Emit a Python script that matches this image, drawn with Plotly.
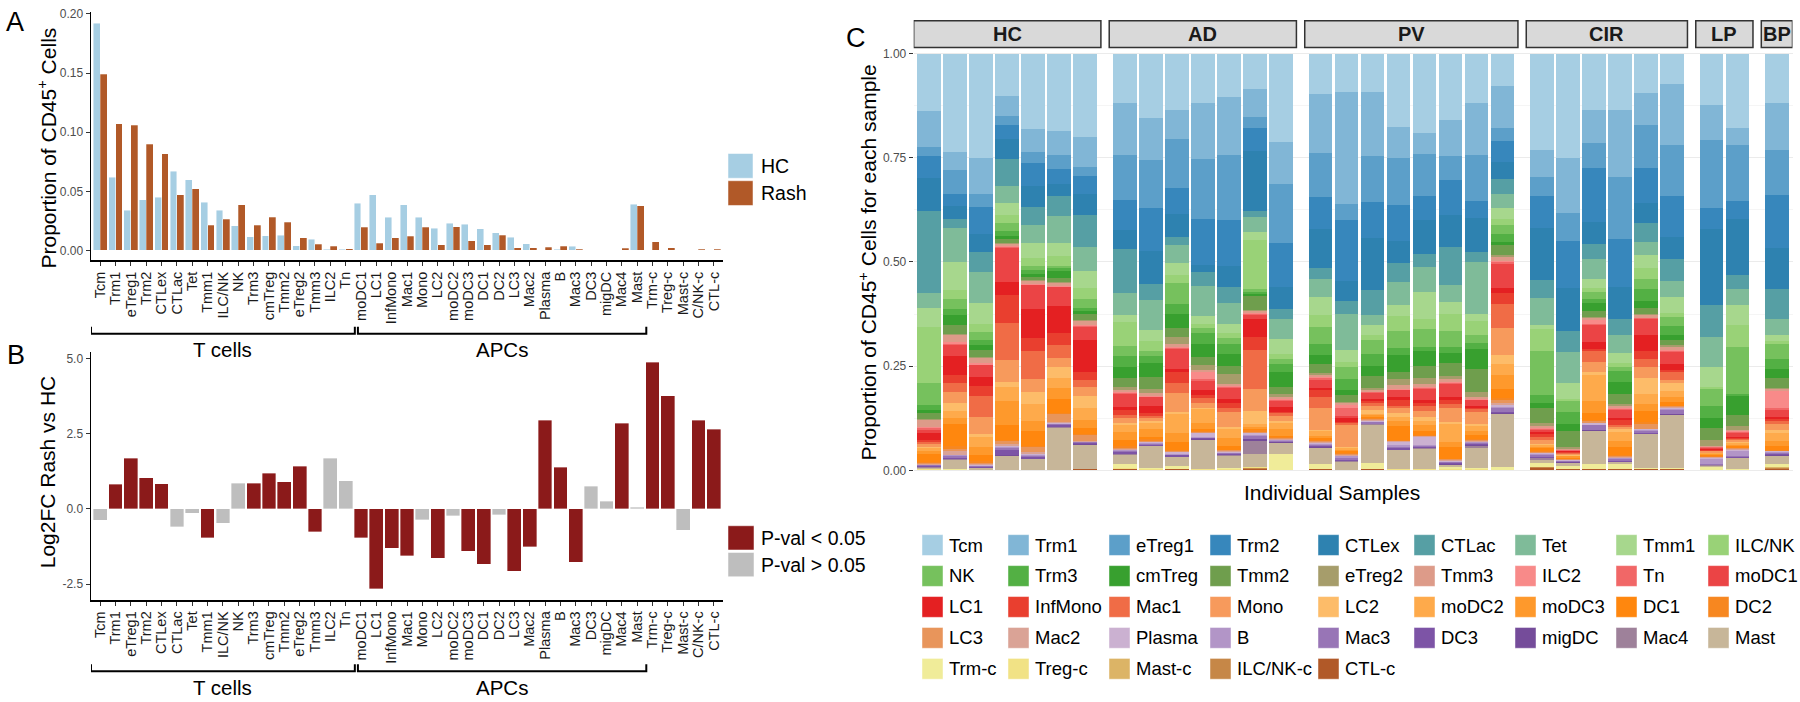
import plotly.graph_objects as go

# ---------------- data ----------------
cell_types = ["Tcm", "Trm1", "eTreg1", "Trm2", "CTLex", "CTLac", "Tet", "Tmm1", "ILC/NK", "NK",
              "Trm3", "cmTreg", "Tmm2", "eTreg2", "Tmm3", "ILC2", "Tn", "moDC1", "LC1", "InfMono",
              "Mac1", "Mono", "LC2", "moDC2", "moDC3", "DC1", "DC2", "LC3", "Mac2", "Plasma",
              "B", "Mac3", "DC3", "migDC", "Mac4", "Mast", "Trm-c", "Treg-c", "Mast-c", "ILC/NK-c", "CTL-c"]
axis_labels = ["Tcm", "Trm1", "eTreg1", "Trm2", "CTLex", "CTLac", "Tet", "Tmm1", "ILC/NK", "NK",
               "Trm3", "cmTreg", "Tmm2", "eTreg2", "Tmm3", "ILC2", "Tn", "moDC1", "LC1", "InfMono",
               "Mac1", "Mono", "LC2", "moDC2", "moDC3", "DC1", "DC2", "LC3", "Mac2", "Plasma",
               "B", "Mac3", "DC3", "migDC", "Mac4", "Mast", "Trm-c", "Treg-c", "Mast-c", "C/NK-c", "CTL-c"]

hc_prop = [0.192, 0.062, 0.034, 0.043, 0.045, 0.067, 0.060, 0.041, 0.034, 0.021,
           0.0115, 0.0126, 0.0131, 0.0039, 0.0095, 0.0011, 0.0011, 0.040, 0.047, 0.028,
           0.0388, 0.028, 0.019, 0.0232, 0.0223, 0.0182, 0.0148, 0.0112, 0.0059, 0.0006,
           0.0011, 0.0036, 0.0003, 0.0002, 0.0002, 0.0391, 0.0003, 0.0003, 0.0003, 0.0002, 0.0002]
rash_prop = [0.149, 0.107, 0.106, 0.090, 0.0816, 0.047, 0.052, 0.0215, 0.0265, 0.0385,
             0.0212, 0.0279, 0.0237, 0.0106, 0.0053, 0.0034, 0.0014, 0.0198, 0.0061, 0.0106,
             0.012, 0.0196, 0.005, 0.0201, 0.0081, 0.0047, 0.0128, 0.0022, 0.0022, 0.0028,
             0.0034, 0.0011, 0.0006, 0.0006, 0.0017, 0.038, 0.0073, 0.0025, 0.0008, 0.0011, 0.0011]

log2fc = [-0.38, 0.82, 1.68, 1.04, 0.83, -0.60, -0.14, -0.96, -0.47, 0.85,
          0.85, 1.19, 0.90, 1.41, -0.76, 1.69, 0.94, -0.96, -2.65, -1.30,
          -1.55, -0.36, -1.64, -0.22, -1.41, -1.83, -0.20, -2.07, -1.26, 2.94,
          1.39, -1.78, 0.75, 0.26, 2.85, 0.05, 4.87, 3.76, -0.71, 2.94, 2.64]
significant = [0, 1, 1, 1, 1, 0, 0, 1, 0, 0,
               1, 1, 1, 1, 1, 0, 0, 1, 1, 1,
               1, 0, 1, 0, 1, 1, 0, 1, 1, 1,
               1, 1, 0, 0, 1, 0, 1, 1, 0, 1, 1]

groups = ["HC", "AD", "PV", "CIR", "LP", "BP"]
group_sizes = [7, 7, 8, 6, 2, 1]

# per-sample proportions, in cell_types order
HC1 = [.140, .087, .024, .052, .081, .200, .036, .047, .137, .053,
       .012, .008, .014, .003, .017, .003, .004, .008, .016, .005,
       .005, .006, .004, .006, .008, .020, .003, .002, .001, .001,
       .001, .002, .002, .001, .001, .003, .001, .001, 0, 0, .001]
HC2 = [.239, .044, .058, .029, .032, .022, .082, .066, .024, .024,
       .014, .024, .021, .004, .016, .004, .004, .026, .045, .020,
       .022, .026, .020, .018, .013, .055, .006, .006, .008, .002,
       .002, .003, .003, .001, .001, .024, .001, .001, 0, 0, 0]
HC3 = [.251, .086, .033, .063, .044, .048, .075, .050, .020, .019,
       .012, .012, .016, .003, .013, .003, .002, .028, .021, .024,
       .051, .041, .008, .022, .019, .016, .004, .003, .003, .001,
       .001, .002, .002, .001, 0, .004, .001, 0, 0, 0, 0]
HC4 = [.103, .048, .021, .034, .049, .065, .041, .029, .020, .019,
       .011, .007, .010, .002, .006, .002, .002, .083, .032, .066,
       .089, .055, .012, .032, .059, .036, .003, .007, .004, .003,
       .003, .005, .011, .002, .001, .033, .001, 0, 0, 0, 0]
HC5 = [.182, .053, .028, .054, .051, .044, .043, .034, .020, .010,
       .010, .007, .008, .002, .006, .002, .002, .057, .069, .032,
       .067, .030, .029, .040, .024, .036, .004, .012, .004, .002,
       .002, .003, .004, .001, .001, .025, .001, 0, 0, 0, 0]
HC6 = [.186, .057, .034, .036, .029, .048, .065, .032, .022, .006,
       .006, .018, .009, .002, .007, .002, .002, .044, .066, .029,
       .030, .021, .027, .025, .026, .033, .004, .019, .002, .001,
       .001, .002, .005, .001, .001, .101, .001, 0, 0, 0, 0]
HC7 = [.202, .071, .023, .042, .050, .077, .058, .041, .028, .020,
       .008, .008, .015, .002, .010, .002, .002, .032, .075, .020,
       .017, .021, .029, .030, .018, .016, .003, .013, .002, .001,
       .001, .001, .003, .001, .001, .058, .001, 0, 0, 0, .002]
AD1 = [.120, .125, .109, .074, .045, .107, .052, .018, .057, .024,
       .027, .026, .022, .008, .005, .002, .002, .032, .008, .011,
       .008, .011, .006, .016, .020, .015, .003, .003, .002, .002,
       .002, .002, .004, .001, .001, .022, .010, .002, .001, .001, .002]
AD2 = [.156, .102, .118, .105, .079, .040, .071, .028, .024, .012,
       .018, .033, .030, .010, .006, .002, .002, .021, .017, .007,
       .006, .006, .006, .014, .020, .005, .003, .002, .002, .002,
       .002, .002, .002, .001, .001, .053, .003, .001, 0, 0, .001]
AD3 = [.136, .070, .117, .063, .055, .020, .044, .027, .020, .050,
       .026, .033, .020, .018, .008, .002, .002, .049, .006, .028,
       .022, .047, .004, .046, .022, .019, .002, .002, .002, .003,
       .002, .002, .003, .001, .001, .020, .008, .001, 0, 0, .002]
AD4 = [.118, .136, .144, .111, .017, .034, .072, .019, .010, .013,
       .025, .032, .019, .012, .004, .018, .004, .022, .012, .008,
       .012, .011, .004, .032, .016, .004, .002, .002, .002, .008,
       .002, .002, .002, .001, .001, .069, .002, .001, 0, 0, .001]
AD5 = [.105, .139, .158, .111, .051, .038, .051, .022, .012, .016,
       .024, .028, .020, .024, .004, .002, .002, .028, .009, .013,
       .009, .036, .004, .024, .019, .008, .002, .002, .001, .002,
       .002, .002, .002, .001, .001, .029, .004, .001, 0, 0, .001]
AD6 = [.087, .069, .028, .055, .149, .014, .038, .020, .120, .008,
       .004, .004, .036, .003, .003, .002, .004, .010, .045, .030,
       .097, .055, .030, .008, .005, .004, .003, .002, .002, .003,
       .004, .006, .002, .003, .032, .033, .001, .001, .001, .002, .003]
AD7 = [.216, .101, .144, .107, .053, .026, .048, .036, .012, .012,
       .020, .037, .016, .009, .004, .002, .002, .017, .010, .004,
       .006, .013, .006, .014, .016, .004, .002, .002, .002, .001,
       .001, .002, .002, .001, .001, .027, .038, .001, 0, 0, 0]
PV1 = [.098, .145, .107, .078, .095, .025, .046, .043, .030, .040,
       .027, .022, .023, .003, .006, .003, .003, .020, .006, .017,
       .027, .052, .004, .012, .005, .005, .002, .002, .002, .002,
       .003, .004, .002, .001, .001, .038, .012, .001, 0, 0, .003]
PV2 = [.093, .275, .038, .150, .048, .033, .086, .030, .013, .028,
       .028, .012, .017, .003, .004, .008, .020, .004, .009, .004,
       .004, .053, .004, .004, .004, .004, .002, .002, .002, .002,
       .004, .005, .002, .001, .001, .020, .001, 0, 0, 0, 0]
PV3 = [.093, .156, .113, .087, .129, .059, .026, .025, .012, .034,
       .029, .024, .030, .004, .004, .002, .002, .014, .004, .006,
       .008, .010, .008, .004, .004, .003, .002, .002, .002, .002,
       .002, .003, .001, .001, .001, .094, .013, .001, 0, 0, .003]
PV4 = [.178, .074, .113, .087, .055, .045, .055, .028, .036, .040,
       .018, .041, .016, .016, .008, .002, .002, .016, .008, .013,
       .006, .012, .010, .010, .012, .032, .002, .002, .002, .008,
       .004, .002, .004, .001, .001, .044, .002, .001, 0, 0, .001]
PV5 = [.192, .051, .103, .058, .083, .030, .061, .065, .024, .044,
       .010, .037, .028, .014, .008, .002, .002, .028, .006, .008,
       .013, .013, .010, .011, .014, .009, .002, .002, .002, .018,
       .002, .004, .002, .001, .001, .048, .002, .001, 0, 0, .001]
PV6 = [.160, .086, .057, .085, .077, .090, .041, .030, .040, .039,
       .014, .023, .032, .006, .008, .002, .002, .032, .008, .008,
       .011, .032, .006, .044, .012, .027, .002, .002, .001, .002,
       .002, .002, .003, .001, .001, .003, .006, .002, 0, 0, .001]
PV7 = [.120, .126, .112, .041, .084, .024, .127, .017, .034, .020,
       .015, .048, .056, .012, .004, .002, .002, .014, .004, .004,
       .006, .030, .005, .012, .009, .010, .002, .002, .002, .002,
       .002, .003, .002, .002, .004, .049, .004, .001, 0, 0, .001]
PV8 = [.079, .101, .030, .053, .041, .034, .034, .027, .015, .022,
       .020, .006, .025, .003, .010, .004, .004, .059, .012, .025,
       .058, .066, .021, .028, .033, .022, .004, .008, .004, .004,
       .003, .010, .002, .002, .001, .128, .008, 0, 0, 0, 0]
CIR1 = [.235, .066, .045, .077, .127, .044, .064, .011, .054, .105,
        .021, .011, .038, .006, .006, .002, .002, .005, .006, .005,
        .009, .008, .004, .004, .004, .006, .002, .002, .002, .002,
        .003, .003, .002, .001, .004, .008, .009, .001, .001, .002, .005]
CIR2 = [.254, .134, .069, .115, .103, .052, .075, .040, .004, .027,
        .030, .016, .040, .003, .003, .001, .001, .002, .002, .002,
        .002, .002, .002, .002, .003, .003, .001, .001, .002, .001,
        .001, .001, .001, .001, .001, .008, .008, 0, 0, 0, .002]
CIR3 = [.135, .081, .059, .131, .054, .034, .048, .024, .008, .018,
        .010, .018, .014, .003, .004, .011, .003, .040, .016, .006,
        .026, .024, .008, .063, .028, .017, .003, .003, .002, .003,
        .002, .010, .002, .001, .001, .078, .012, .001, 0, 0, .003]
CIR4 = [.138, .161, .153, .116, .077, .038, .046, .024, .008, .011,
        .026, .029, .024, .006, .005, .002, .002, .019, .006, .012,
        .004, .006, .008, .020, .016, .020, .002, .002, .001, .002,
        .002, .004, .002, .001, .001, .004, .013, 0, 0, 0, .002]
CIR5 = [.095, .077, .103, .083, .049, .045, .031, .032, .025, .024,
        .030, .016, .014, .003, .006, .002, .002, .038, .039, .019,
        .018, .027, .039, .024, .016, .027, .003, .012, .002, .002,
        .002, .004, .002, .001, .001, .081, .003, 0, 0, 0, .002]
CIR6 = [.075, .147, .124, .098, .053, .055, .038, .039, .010, .022,
        .022, .012, .012, .003, .009, .002, .002, .029, .014, .005,
        .019, .008, .021, .013, .013, .008, .002, .002, .002, .003,
        .003, .008, .001, .001, .002, .127, .004, 0, 0, 0, .002]
LP1 = [.124, .087, .163, .052, .184, .079, .073, .048, .004, .043,
       .028, .024, .029, .014, .003, .001, .001, .003, .002, .002,
       .002, .003, .002, .002, .003, .002, .001, .001, .001, .003,
       .012, .002, .001, .001, .001, .002, .008, 0, 0, 0, .001]
LP2 = [.182, .040, .135, .045, .135, .035, .038, .050, .053, .113,
       .006, .045, .028, .008, .004, .002, .003, .008, .003, .003,
       .003, .004, .003, .004, .004, .004, .001, .001, .002, .004,
       .012, .002, .001, .001, .001, .026, .002, 0, 0, 0, .001]
BP1 = [.120, .115, .109, .129, .101, .073, .040, .013, .008, .037,
       .024, .021, .026, .003, .003, .042, .006, .016, .006, .004,
       .006, .016, .006, .021, .012, .010, .001, .001, .001, .002,
       .003, .002, .002, .001, .001, .020, .006, .002, .002, .002, .003]

samples = [HC1, HC2, HC3, HC4, HC5, HC6, HC7,
           AD1, AD2, AD3, AD4, AD5, AD6, AD7,
           PV1, PV2, PV3, PV4, PV5, PV6, PV7, PV8,
           CIR1, CIR2, CIR3, CIR4, CIR5, CIR6,
           LP1, LP2, BP1]

# ---------------- styles ----------------
FONT = "Liberation Sans, Arial, Helvetica, sans-serif"
W, H = 1800, 702
HC_COLOR, RASH_COLOR = "#a6cee3", "#b15928"
SIG_COLOR, NS_COLOR = "#8b1a1a", "#bebebe"
PAIRED = ["#A6CEE3", "#1F78B4", "#B2DF8A", "#33A02C", "#FB9A99", "#E31A1C",
          "#FDBF6F", "#FF7F00", "#CAB2D6", "#6A3D9A", "#FFFF99", "#B15928"]


def ramp(colors, n):
    rgb = [tuple(int(c[i:i + 2], 16) for i in (1, 3, 5)) for c in colors]
    out = []
    for k in range(n):
        t = k * (len(rgb) - 1) / (n - 1)
        i = min(int(t), len(rgb) - 2)
        f = t - i
        c = [round(rgb[i][j] + (rgb[i + 1][j] - rgb[i][j]) * f) for j in range(3)]
        out.append("#%02x%02x%02x" % tuple(c))
    return out


palette = ramp(PAIRED, len(cell_types))


def fx(p):
    return p / W


def fy(p):
    return 1 - p / H


idx = list(range(len(cell_types)))
fig = go.Figure()

# ---------------- panel A ----------------
fig.add_trace(go.Bar(x=idx, y=hc_prop, name="HC", xaxis="x", yaxis="y",
                     offsetgroup="HC", offset=-0.45, width=0.45,
                     marker=dict(color=HC_COLOR, line=dict(color="rgba(255,255,255,0.55)", width=0.8))))
fig.add_trace(go.Bar(x=idx, y=rash_prop, name="Rash", xaxis="x", yaxis="y",
                     offsetgroup="Rash", offset=0.0, width=0.45,
                     marker=dict(color=RASH_COLOR, line=dict(color="rgba(255,255,255,0.35)", width=0.8))))

# ---------------- panel B ----------------
fig.add_trace(go.Bar(x=idx, y=log2fc, xaxis="x2", yaxis="y2", width=0.9,
                     marker=dict(color=[SIG_COLOR if s else NS_COLOR for s in significant],
                                 line=dict(color="rgba(255,255,255,0.45)", width=0.8))))

# ---------------- panel C ----------------
GROUP_GAP = 0.52
sample_x, group_span = [], []
pos = 0
for g, n in enumerate(group_sizes):
    xs = [pos + k + GROUP_GAP * g for k in range(n)]
    sample_x += xs
    group_span.append((xs[0], xs[-1]))
    pos += n

totals = [sum(s) for s in samples]
for k in reversed(range(len(cell_types))):
    fig.add_trace(go.Bar(x=sample_x, y=[s[k] / t for s, t in zip(samples, totals)],
                         name=cell_types[k], xaxis="x3", yaxis="y3", width=0.91,
                         marker=dict(color=palette[k], line=dict(width=0))))

shapes, annotations = [], []

# brackets under A and B
brackets = [("T cells", -0.6, 16.6), ("APCs", 16.8, 35.6)]
for xr, y_line, y_tip, y_text in [("x", 332, 325, 348), ("x2", 673, 666, 689)]:
    for label, a, b in brackets:
        shapes.append(dict(type="path", xref=xr, yref="paper",
                           path=f"M {a},{fy(y_tip)} L {a},{fy(y_line)} L {b},{fy(y_line)} L {b},{fy(y_tip)}",
                           line=dict(color="black", width=2)))
        annotations.append(dict(text=label, xref=xr, yref="paper", x=(a + b) / 2, y=fy(y_text),
                                showarrow=False, xanchor="center", yanchor="middle",
                                font=dict(size=20.5, color="black", family=FONT)))

# A / B legends
for i, (lab, col) in enumerate([("HC", HC_COLOR), ("Rash", RASH_COLOR)]):
    y0 = 150 + i * 27.5
    shapes.append(dict(type="rect", xref="paper", yref="paper", x0=fx(728), x1=fx(753),
                       y0=fy(y0), y1=fy(y0 + 25), fillcolor=col,
                       line=dict(color="rgba(255,255,255,0.5)", width=1)))
    annotations.append(dict(text=lab, xref="paper", yref="paper", x=fx(759), y=fy(y0 + 12.5),
                            showarrow=False, xanchor="left", yanchor="middle",
                            font=dict(size=19.5, color="black", family=FONT)))
for i, (lab, col) in enumerate([("P-val &lt; 0.05", SIG_COLOR), ("P-val &gt; 0.05", NS_COLOR)]):
    y0 = 526 + i * 27
    shapes.append(dict(type="rect", xref="paper", yref="paper", x0=fx(728), x1=fx(754),
                       y0=fy(y0), y1=fy(y0 + 24.5), fillcolor=col,
                       line=dict(color="rgba(255,255,255,0.5)", width=1)))
    annotations.append(dict(text=lab, xref="paper", yref="paper", x=fx(759), y=fy(y0 + 12.5),
                            showarrow=False, xanchor="left", yanchor="middle",
                            font=dict(size=19.5, color="black", family=FONT)))

# C legend
leg_cols = [922, 1008, 1109, 1210, 1318, 1414, 1515, 1616, 1708]
for k, name in enumerate(cell_types):
    r, c = divmod(k, 9)
    x0, y0 = leg_cols[c], 535 + r * 31.25
    shapes.append(dict(type="rect", xref="paper", yref="paper", x0=fx(x0), x1=fx(x0 + 21),
                       y0=fy(y0), y1=fy(y0 + 21), fillcolor=palette[k],
                       line=dict(color="rgba(255,255,255,0.45)", width=1)))
    annotations.append(dict(text=name, xref="paper", yref="paper", x=fx(x0 + 25), y=fy(y0 + 10.5),
                            showarrow=False, xanchor="left", yanchor="middle",
                            font=dict(size=18.5, color="black", family=FONT)))

# facet strips
for gname, (a, b) in zip(groups, group_span):
    shapes.append(dict(type="rect", xref="x3", yref="paper", x0=a - 0.6, x1=b + 0.6,
                       y0=fy(43), y1=fy(16), fillcolor="#d9d9d9",
                       line=dict(color="#333333", width=1.5)))
    annotations.append(dict(text=f"<b>{gname}</b>", xref="x3", yref="paper", x=(a + b) / 2,
                            y=fy(29.5), showarrow=False, xanchor="center", yanchor="middle",
                            font=dict(size=20, color="#1a1a1a", family=FONT)))

# panel letters and titles
for letter, x, y in [("A", 15, 17), ("B", 16, 354), ("C", 856, 33)]:
    annotations.append(dict(text=letter, xref="paper", yref="paper", x=fx(x), y=fy(y),
                            showarrow=False, xanchor="center", yanchor="middle",
                            font=dict(size=27, color="black", family=FONT)))
for text, x, y in [("Proportion of CD45<sup>+</sup> Cells", 47, 145),
                   ("Log2FC Rash vs HC", 47, 472),
                   ("Proportion of CD45<sup>+</sup> Cells for each sample", 868, 260)]:
    annotations.append(dict(text=text, xref="paper", yref="paper", x=fx(x), y=fy(y),
                            textangle=-90, showarrow=False, xanchor="center", yanchor="middle",
                            font=dict(size=21, color="black", family=FONT)))
annotations.append(dict(text="Individual Samples", xref="paper", yref="paper", x=fx(1332), y=fy(492),
                        showarrow=False, xanchor="center", yanchor="middle",
                        font=dict(size=21, color="black", family=FONT)))

# ---------------- axes ----------------
xcat = dict(range=[-0.6, 40.6], tickmode="array", tickvals=idx, ticktext=axis_labels,
            tickangle=-90, ticks="outside", ticklen=4, tickwidth=1, tickcolor="#333333",
            showline=True, linecolor="black", linewidth=1.5, showgrid=False, zeroline=False,
            tickfont=dict(size=14.5, color="#1a1a1a", family=FONT))
yax = dict(ticks="outside", ticklen=4, tickwidth=1, tickcolor="#333333", showline=True,
           linecolor="black", linewidth=1.5, showgrid=False, zeroline=False,
           tickfont=dict(size=12, color="#4d4d4d", family=FONT))

fig.update_layout(
    width=W, height=H, margin=dict(l=0, r=0, t=0, b=0),
    paper_bgcolor="white", plot_bgcolor="white",
    barmode="stack", showlegend=False, hovermode=False,
    font=dict(family=FONT),
    xaxis=dict(domain=[fx(91), fx(723)], anchor="y", **xcat),
    yaxis=dict(domain=[fy(258), fy(7)], anchor="x", range=[-0.0084, 0.2017],
               tickmode="array", tickvals=[0, 0.05, 0.10, 0.15, 0.20],
               ticktext=["0.00", "0.05", "0.10", "0.15", "0.20"], **yax),
    xaxis2=dict(domain=[fx(91), fx(723)], anchor="y2", **xcat),
    yaxis2=dict(domain=[fy(601), fy(350)], anchor="x2", range=[-3.026, 5.23],
                tickmode="array", tickvals=[-2.5, 0, 2.5, 5.0],
                ticktext=["-2.5", "0.0", "2.5", "5.0"], **yax),
    xaxis3=dict(domain=[fx(913.7), fx(1792.5)], anchor="y3", range=[-0.6, sample_x[-1] + 0.6],
                showticklabels=False, ticks="", showline=False, showgrid=False, zeroline=False),
    yaxis3=dict(domain=[fy(475), fy(44)], anchor="x3", range=[-0.0119, 1.0119],
                tickmode="array", tickvals=[0, 0.25, 0.5, 0.75, 1.0],
                ticktext=["0.00", "0.25", "0.50", "0.75", "1.00"],
                ticks="outside", ticklen=4, tickwidth=1, tickcolor="#333333",
                showline=False, zeroline=False, showgrid=True, gridcolor="#ebebeb", gridwidth=1,
                minor=dict(tickvals=[0.125, 0.375, 0.625, 0.875], showgrid=True,
                           gridcolor="#f3f3f3", gridwidth=0.8, ticks=""),
                tickfont=dict(size=12, color="#4d4d4d", family=FONT)),
    shapes=shapes, annotations=annotations,
)

fig.write_html("out.html", config={"displayModeBar": False, "staticPlot": True},
               post_script="document.body.style.margin='0px';document.body.style.overflow='hidden';")
